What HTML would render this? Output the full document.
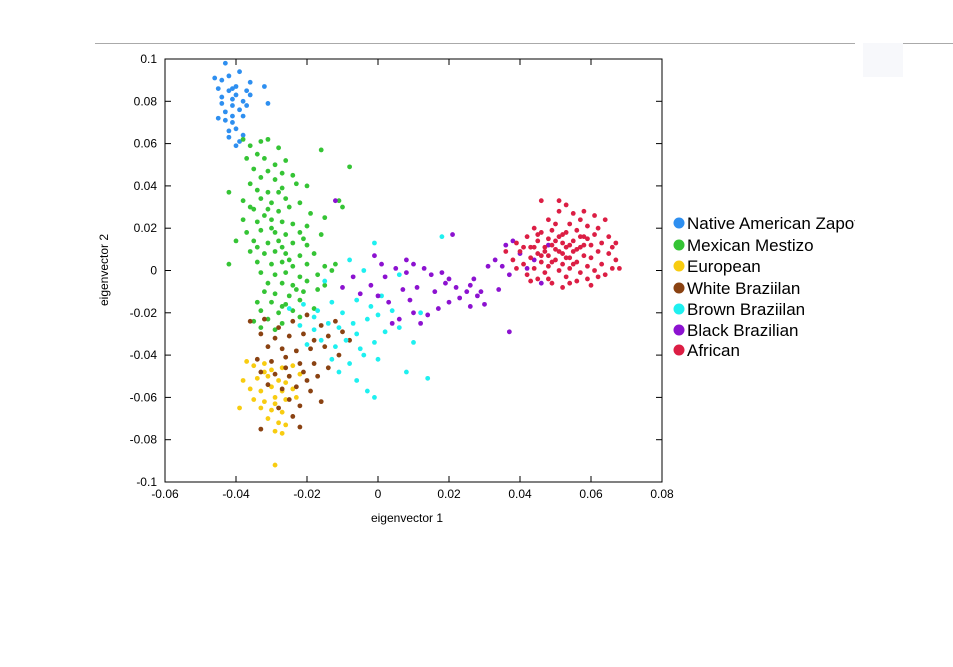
<!DOCTYPE html>
<html><head><meta charset="utf-8"><style>
body{margin:0;background:#fff;width:953px;height:667px;overflow:hidden;font-family:"Liberation Sans",sans-serif}
svg{position:absolute;left:0;top:0}
</style></head><body>
<svg id="chart" width="953" height="667">
<line x1="95" y1="43.5" x2="855" y2="43.5" stroke="#aaa" stroke-width="1"/>
<line x1="903" y1="43.5" x2="953" y2="43.5" stroke="#aaa" stroke-width="1"/>
<rect x="863" y="43" width="40" height="34" fill="#f7f8fb"/>
<g id="axes"></g><g id="marks"></g>
<rect x="165" y="59" width="497" height="423" fill="none" stroke="#000" stroke-width="1"/>
<text x="407" y="522" font-size="12" text-anchor="middle">eigenvector 1</text>
<text transform="translate(108,270) rotate(-90)" font-size="12" text-anchor="middle">eigenvector 2</text>
<svg x="0" y="0" width="855" height="667" overflow="hidden"><g id="legend"></g></svg>
</svg>
<script>
const xTicks=[-0.06,-0.04,-0.02,0,0.02,0.04,0.06,0.08];
const xTickLabels=["-0.06","-0.04","-0.02","0","0.02","0.04","0.06","0.08"];
const yTicks=[-0.1,-0.08,-0.06,-0.04,-0.02,0,0.02,0.04,0.06,0.08,0.1];
const yTickLabels=["-0.1","-0.08","-0.06","-0.04","-0.02","0","0.02","0.04","0.06","0.08","0.1"];
const seriesNames=["Native American Zapotec","Mexican Mestizo","European","White Braziilan","Brown Braziilan","Black Brazilian","African"];
const seriesColors=["#2e8ff0","#35c435","#f8cc10","#8a4212","#1ef0f0","#8c12d0","#dc1e44"];
const native=[[-43,98],[-46,91],[-44,90],[-40,87],[-42,85],[-40,83],[-37,85],[-45,86],[-41,81],[-38,80],[-44,79],[-41,78],[-39,76],[-45,72],[-43,71],[-41,70],[-38,73],[-36,89],[-32,87],[-31,79],[-42,66],[-40,67],[-39,61],[-40,59],[-38,64],[-43,75],[-44,82],[-37,78],[-41,86],[-41,73],[-42,92],[-39,94],[-36,83],[-42,63]];
const mestizo=[[-38,62],[-36,59],[-33,61],[-31,62],[-28,58],[-34,55],[-37,53],[-32,53],[-29,50],[-26,52],[-16,57],[-8,49],[-35,48],[-31,47],[-27,46],[-24,45],[-33,44],[-29,43],[-36,41],[-42,37],[-34,38],[-31,37],[-27,39],[-23,41],[-20,40],[-38,33],[-33,34],[-30,32],[-26,34],[-22,32],[-11,33],[-35,29],[-31,29],[-28,28],[-25,30],[-19,27],[-15,25],[-10,30],[-38,24],[-34,23],[-30,24],[-27,23],[-24,22],[-20,21],[-37,18],[-33,19],[-29,18],[-26,17],[-22,18],[-16,17],[-40,14],[-35,14],[-31,13],[-28,14],[-24,13],[-20,12],[-36,9],[-32,8],[-29,9],[-26,8],[-22,7],[-18,8],[-42,3],[-34,4],[-30,3],[-27,4],[-24,2],[-20,3],[-15,2],[-12,3],[-33,-1],[-29,-2],[-26,-1],[-22,-3],[-17,-2],[-13,0],[-31,-6],[-27,-6],[-24,-7],[-20,-5],[-15,-7],[-32,-10],[-29,-11],[-25,-12],[-21,-10],[-17,-9],[-34,-15],[-30,-15],[-26,-16],[-22,-14],[-33,-19],[-28,-20],[-24,-19],[-35,-24],[-31,-23],[-27,-25],[-33,-27],[-29,-28],[-22,-22],[-18,-18],[-28,37],[-32,26],[-27,11],[-23,-9],[-36,30],[-30,20],[-25,5],[-21,15],[-34,11],[-27,-17]];
const european=[[-37,-43],[-35,-45],[-32,-44],[-30,-47],[-27,-46],[-24,-45],[-38,-52],[-34,-51],[-31,-50],[-28,-52],[-25,-50],[-22,-49],[-36,-56],[-33,-57],[-30,-55],[-27,-57],[-24,-56],[-35,-61],[-32,-62],[-29,-60],[-26,-61],[-23,-60],[-39,-65],[-33,-65],[-30,-66],[-27,-67],[-31,-70],[-28,-72],[-26,-73],[-29,-76],[-27,-77],[-29,-92],[-32,-48],[-26,-53],[-29,-63]];
const whiteBr=[[-36,-24],[-32,-23],[-28,-27],[-24,-24],[-20,-21],[-16,-26],[-12,-24],[-33,-30],[-29,-32],[-25,-31],[-21,-30],[-18,-33],[-14,-31],[-10,-29],[-31,-36],[-27,-37],[-23,-38],[-19,-37],[-15,-36],[-11,-40],[-34,-42],[-30,-43],[-26,-41],[-22,-44],[-18,-44],[-14,-46],[-33,-48],[-29,-49],[-25,-50],[-21,-48],[-17,-50],[-31,-54],[-27,-56],[-23,-55],[-19,-57],[-25,-61],[-22,-64],[-28,-65],[-24,-69],[-22,-74],[-33,-75],[-16,-62],[-8,-33],[-20,-52],[-26,-46]];
const brownBr=[[-25,-18],[-21,-16],[-17,-19],[-13,-15],[-10,-20],[-6,-14],[-2,-17],[1,-12],[-22,-26],[-18,-28],[-14,-25],[-11,-27],[-7,-25],[-3,-23],[0,-21],[4,-19],[-20,-35],[-16,-33],[-12,-36],[-9,-33],[-5,-37],[-1,-34],[2,-29],[6,-27],[-13,-42],[-8,-44],[-4,-40],[0,-42],[-11,-48],[-6,-52],[-3,-57],[-1,-60],[8,-48],[14,-51],[6,-2],[-1,13],[-8,5],[-4,0],[-15,-5],[18,16],[12,-20],[10,-34],[-18,-22],[-6,-30]];
const blackBr=[[-12,33],[-10,-8],[-7,-3],[-5,-11],[-2,-7],[2,-3],[5,1],[8,-1],[10,3],[13,1],[15,-2],[18,-1],[20,-4],[22,-8],[25,-10],[28,-12],[30,-16],[26,-7],[23,-13],[20,-15],[17,-18],[14,-21],[12,-25],[10,-20],[6,-23],[4,-25],[9,-14],[7,-9],[3,-15],[0,-12],[16,-10],[19,-6],[27,-4],[31,2],[33,5],[35,2],[37,-2],[36,12],[40,8],[38,14],[34,-9],[37,-29],[26,-17],[21,17],[-1,7],[1,3],[8,5],[11,-8],[29,-10],[42,1],[44,5],[46,-6],[48,12]];
const african=[[38,5],[39,13],[40,9],[41,3],[42,16],[42,-2],[43,11],[43,6],[44,20],[44,1],[45,14],[45,8],[45,-4],[46,33],[46,18],[46,4],[47,11],[47,-1],[48,24],[48,15],[48,7],[48,2],[49,19],[49,12],[49,-6],[50,10],[50,5],[50,22],[51,16],[51,0],[51,28],[52,13],[52,8],[52,3],[52,-8],[53,31],[53,18],[53,11],[53,-3],[54,22],[54,6],[54,1],[55,14],[55,9],[55,27],[56,19],[56,4],[56,-5],[57,11],[57,24],[57,-1],[58,16],[58,7],[58,28],[59,2],[59,21],[59,-4],[60,12],[60,6],[61,26],[61,17],[61,0],[62,9],[62,20],[63,13],[63,3],[64,24],[64,-2],[65,16],[65,8],[66,11],[66,1],[67,13],[67,5],[60,-7],[47,9],[50,14],[52,17],[54,12],[56,10],[58,12],[44,11],[46,7],[48,-4],[51,9],[53,6],[55,3],[57,16],[49,4],[45,17],[62,-3],[54,-6],[41,11],[43,-5],[39,1],[36,9],[68,1],[51,33],[59,15]];
const seriesData=[native,mestizo,european,whiteBr,brownBr,blackBr,african];
const seriesKeys=["native","mestizo","european","white-brazilian","brown-brazilian","black-brazilian","african"];

const NS="http://www.w3.org/2000/svg";
const L=165,R=662,T=59,B=482;
function xs(v){return L+(v+0.06)/0.14*(R-L);}
function ys(v){return B-(v+0.1)/0.2*(B-T);}
function mk(tag,a){const e=document.createElementNS(NS,tag);for(const k in a)e.setAttribute(k,a[k]);return e;}
const axes=document.getElementById('axes');
xTicks.forEach((t,i)=>{const x=xs(t);
 const a=mk('line',{x1:x,y1:B,x2:x,y2:B-6,stroke:'#000'});axes.appendChild(a);
 const b=mk('line',{x1:x,y1:T,x2:x,y2:T+6,stroke:'#000'});axes.appendChild(b);
 const tx=mk('text',{x:x,y:B+16,'font-size':12,'text-anchor':'middle'});tx.textContent=xTickLabels[i];
 axes.appendChild(tx);});
yTicks.forEach((t,i)=>{const y=ys(t);
 const a=mk('line',{x1:L,y1:y,x2:L+6,y2:y,stroke:'#000'});axes.appendChild(a);
 const b=mk('line',{x1:R,y1:y,x2:R-6,y2:y,stroke:'#000'});axes.appendChild(b);
 const tx=mk('text',{x:L-8,y:y+4,'font-size':12,'text-anchor':'end'});tx.textContent=yTickLabels[i];
 axes.appendChild(tx);});
const marks=document.getElementById('marks');
seriesData.forEach((pts,s)=>{const g=mk('g',{fill:seriesColors[s]});
 
 pts.forEach(p=>{const c=mk('circle',{cx:xs(p[0]/1000),cy:ys(p[1]/1000),r:2.4});
  g.appendChild(c);});
 marks.appendChild(g);});
const leg=document.getElementById('legend');
const legY=[223,245,266,288,309,330,350];
seriesNames.forEach((n,i)=>{const g=mk('g',{});
 
 g.appendChild(mk('circle',{cx:679,cy:legY[i],r:5.5,fill:seriesColors[i]}));
 const t=mk('text',{x:687,y:legY[i]+6,'font-size':17});t.textContent=n;g.appendChild(t);leg.appendChild(g);});
</script>
</body></html>
